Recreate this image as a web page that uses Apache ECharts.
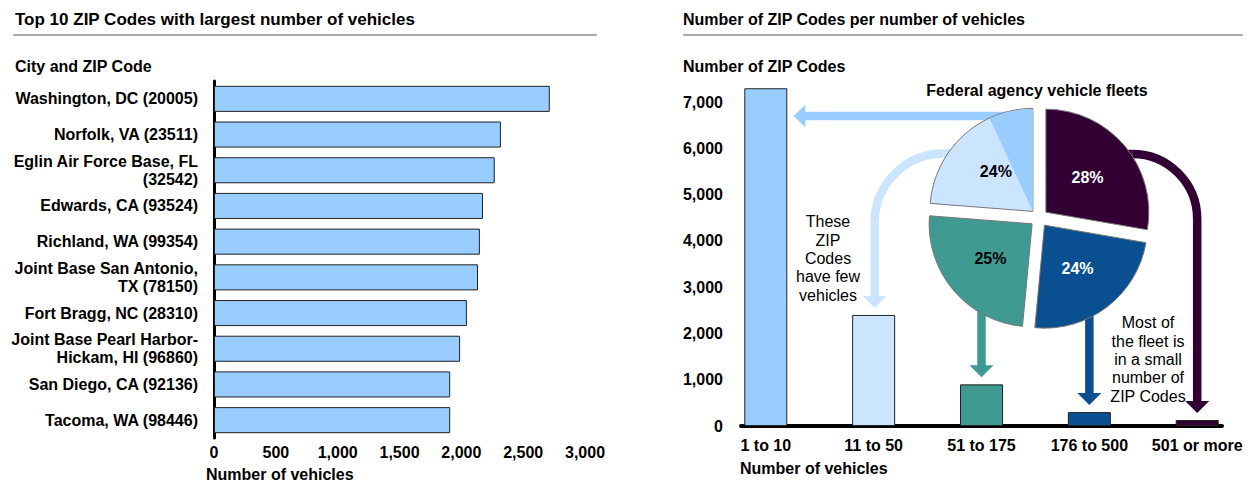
<!DOCTYPE html>
<html>
<head>
<meta charset="utf-8">
<script src="https://cdn.jsdelivr.net/npm/echarts@6/dist/echarts.min.js"></script>
<style>
  html, body { margin: 0; padding: 0; background: #fff; }
  #main { width: 1251px; height: 481px; }
</style>
</head>
<body>
<div id="main"></div>
<script>
// left panel: top 10 ZIP codes by vehicle count
var zipNames = [
  'Washington, DC (20005)',
  'Norfolk, VA (23511)',
  'Eglin Air Force Base, FL\n(32542)',
  'Edwards, CA (93524)',
  'Richland, WA (99354)',
  'Joint Base San Antonio,\nTX (78150)',
  'Fort Bragg, NC (28310)',
  'Joint Base Pearl Harbor-\nHickam, HI (96860)',
  'San Diego, CA (92136)',
  'Tacoma, WA (98446)'
];
var zipVehicles = [2715, 2320, 2270, 2175, 2150, 2135, 2045, 1990, 1910, 1910];

// right panel: number of ZIP codes per fleet size
var fleetBins = ['1 to 10', '11 to 50', '51 to 175', '176 to 500', '501 or more'];
var zipCounts = [7300, 2400, 900, 300, 130];
var zipTicks = [0, 1000, 2000, 3000, 4000, 5000, 6000, 7000];

// pie: share of the federal fleet (clockwise from 12 o'clock)
var shareNames = ['501 or more', '176 to 500', '51 to 175', '1 to 50'];
var shareValues = [28, 24, 25, 24];
var shareOneToTen = 7;   // the darker wedge inside the 1 to 50 slice

var FONT = "'Liberation Sans', Arial, sans-serif";
var binColors = ['#99ccff', '#cce5ff', '#3f9a92', '#0a5090', '#330033'];
var pieColors = ['#330033', '#0a5090', '#3f9a92', '#cce5ff'];
var pieLabelColors = ['#fff', '#fff', '#000', '#000'];
var pieLabelShift = [[3, -7], [7, 9], [-2, 10], [-4, -11]];
var pieCenter = [1039, 218];
var pieRadius = 103;
var pieOffset = 9;

function fmt(v) { return Number(v).toLocaleString('en-US'); }

var chart = echarts.init(document.getElementById('main'), null, { renderer: 'svg' });

var option = {
  animation: false,
  textStyle: { fontFamily: FONT },
  grid: [
    { left: 214, top: 81, width: 371, height: 357 },
    { left: 741, top: 79, width: 481, height: 347 }
  ],
  xAxis: [
    {
      gridIndex: 0, type: 'value', min: 0, max: 3000, interval: 500,
      axisLine: { show: false }, axisTick: { show: false }, splitLine: { show: false },
      axisLabel: { formatter: fmt, color: '#000', fontSize: 16, fontWeight: 'bold', margin: 6, fontFamily: FONT }
    },
    {
      gridIndex: 1, type: 'value', min: -0.23, max: 4.23,
      axisLine: { show: true, lineStyle: { color: '#000', width: 4 } },
      axisTick: { show: false }, splitLine: { show: false },
      axisLabel: {
        customValues: [0, 1, 2, 3, 4],
        formatter: function (v) { return fleetBins[Math.round(v)]; },
        color: '#000', fontSize: 16, fontWeight: 'bold', margin: 11, fontFamily: FONT
      }
    }
  ],
  yAxis: [
    {
      gridIndex: 0, type: 'category', data: zipNames, inverse: true,
      axisLine: { show: true, lineStyle: { color: '#000', width: 3 } },
      axisTick: { show: false },
      axisLabel: { color: '#000', fontSize: 16, fontWeight: 'bold', margin: 16, lineHeight: 18, align: 'right', fontFamily: FONT }
    },
    {
      gridIndex: 1, type: 'value', min: 0, max: 7500,
      axisLine: { show: false }, axisTick: { show: false }, splitLine: { show: false },
      axisLabel: { customValues: zipTicks, formatter: fmt, color: '#000', fontSize: 16, fontWeight: 'bold', margin: 18, fontFamily: FONT }
    }
  ],
  series: [
    {
      type: 'bar', xAxisIndex: 0, yAxisIndex: 0,
      data: zipVehicles, barCategoryGap: '27%',
      itemStyle: { color: '#99ccff', borderColor: '#222', borderWidth: 1 },
      silent: true
    },
    {
      type: 'bar', xAxisIndex: 1, yAxisIndex: 1, barWidth: 43,
      data: zipCounts.map(function (v, i) {
        return { value: [i, v], itemStyle: { color: binColors[i] } };
      }),
      itemStyle: { borderColor: '#222', borderWidth: 1 },
      silent: true
    },
    {
      type: 'pie', center: pieCenter, radius: pieRadius,
      startAngle: 90, clockwise: true,
      selectedMode: 'multiple', selectedOffset: pieOffset,
      avoidLabelOverlap: false, silent: true, z: 3,
      itemStyle: { borderColor: '#777', borderWidth: 1 },
      label: { show: true, position: 'inside', formatter: '{c}%', fontSize: 16, fontWeight: 'bold', fontFamily: FONT },
      labelLine: { show: false },
      emphasis: { disabled: true },
      data: shareValues.map(function (v, i) {
        return {
          name: shareNames[i], value: v, selected: true,
          itemStyle: { color: pieColors[i] },
          label: { color: pieLabelColors[i], offset: pieLabelShift[i] }
        };
      })
    }
  ]
};

// the 1 to 10 wedge sits inside the exploded 1 to 50 slice, so shift it the same way
var total = shareValues.reduce(function (a, b) { return a + b; }, 0);
var before = shareValues[0] + shareValues[1] + shareValues[2];
var midFrac = (before + shareValues[3] / 2) / total;
var midAng = (-90 + midFrac * 360) * Math.PI / 180;
var wedgeCenter = [pieCenter[0] + pieOffset * Math.cos(midAng), pieCenter[1] + pieOffset * Math.sin(midAng)];
option.series.push({
  type: 'pie', center: wedgeCenter, radius: pieRadius - 0.5,
  startAngle: 90, clockwise: false, silent: true, z: 3,
  label: { show: false }, labelLine: { show: false },
  emphasis: { disabled: true },
  data: [
    { name: '1 to 10', value: shareOneToTen, itemStyle: { color: '#99ccff' } },
    { name: 'rest', value: total - shareOneToTen, itemStyle: { color: 'rgba(0,0,0,0)' } }
  ]
});

chart.setOption(option);

// annotations: headings, rules, arrows and notes
function txt(x, y, s, opts) {
  opts = opts || {};
  var lh = opts.lineHeight || 18;
  return {
    type: 'text', x: x, y: y - lh / 2, z: 5, silent: true,
    style: {
      text: s, fill: '#000',
      font: (opts.weight || 'bold') + ' ' + (opts.size || 16) + 'px ' + FONT,
      textAlign: opts.align || 'left', align: opts.align || 'left',
      textVerticalAlign: 'top', verticalAlign: 'top',
      lineHeight: lh
    }
  };
}
function rule(x1, x2, y) {
  return { type: 'line', z: 0, silent: true, shape: { x1: x1, y1: y, x2: x2, y2: y }, style: { stroke: '#555', lineWidth: 1.2 } };
}
var SHAFT = 8.5, HEAD_W = 12, HEAD_L = 12;
function head(x, tipY, color) {
  return { type: 'polygon', z: 0, silent: true, shape: { points: [[x - HEAD_W, tipY - HEAD_L], [x + HEAD_W, tipY - HEAD_L], [x, tipY]] }, style: { fill: color } };
}
function downArrow(x, yTop, tipY, color) {
  return [
    { type: 'rect', z: 0, silent: true, shape: { x: x - SHAFT / 2, y: yTop, width: SHAFT, height: tipY - HEAD_L + 1 - yTop }, style: { fill: color } },
    head(x, tipY, color)
  ];
}
function curvedArrow(x, yStart, xStart, radius, dir, tipY, color) {
  // dir -1: bends down to the left, 1: bends down to the right
  var cx = x - dir * radius;
  var cy = yStart + radius;
  var arc = dir < 0
    ? { startAngle: Math.PI, endAngle: Math.PI * 1.5 }
    : { startAngle: -Math.PI / 2, endAngle: 0 };
  return [
    { type: 'line', z: 0, silent: true, shape: { x1: xStart, y1: yStart, x2: cx, y2: yStart }, style: { stroke: color, lineWidth: SHAFT } },
    { type: 'arc', z: 0, silent: true, shape: { cx: cx, cy: cy, r: radius, startAngle: arc.startAngle, endAngle: arc.endAngle, clockwise: true }, style: { fill: null, stroke: color, lineWidth: SHAFT } },
    { type: 'rect', z: 0, silent: true, shape: { x: x - SHAFT / 2, y: cy, width: SHAFT, height: tipY - HEAD_L + 1 - cy }, style: { fill: color } },
    head(x, tipY, color)
  ];
}

var barPts = zipCounts.map(function (v, i) {
  return chart.convertToPixel({ gridIndex: 1 }, [i, v]);
});
var gap = 7;
var els = [
  txt(15, 19, 'Top 10 ZIP Codes with largest number of vehicles', { size: 17 }),
  rule(13, 597, 35),
  txt(15, 66, 'City and ZIP Code'),
  txt(206, 474, 'Number of vehicles'),
  txt(683, 19, 'Number of ZIP Codes per number of vehicles'),
  rule(683, 1243, 35),
  txt(683, 66, 'Number of ZIP Codes'),
  txt(740, 468, 'Number of vehicles'),
  txt(1037, 90, 'Federal agency vehicle fleets', { align: 'center' }),
  txt(828, 222, 'These\nZIP\nCodes\nhave few\nvehicles', { weight: 'normal', align: 'center', lineHeight: 18.3 }),
  txt(1148, 323, 'Most of\nthe fleet is\nin a small\nnumber of\nZIP Codes', { weight: 'normal', align: 'center', lineHeight: 18.3 })
];

// 1 to 10: horizontal arrow to the side of the tall bar
var tipX = barPts[0][0] + 21.5 + 6;
els.push(
  { type: 'rect', z: 0, silent: true, shape: { x: tipX + 11, y: 116 - SHAFT / 2, width: 1031 - tipX - 11, height: SHAFT }, style: { fill: binColors[0] } },
  { type: 'polygon', z: 0, silent: true, shape: { points: [[tipX + 12, 105], [tipX + 12, 127], [tipX, 116]] }, style: { fill: binColors[0] } }
);
els = els.concat(
  curvedArrow(barPts[1][0] + 1, 153.5, 960, 69, -1, barPts[1][1] - gap, binColors[1]),
  downArrow(barPts[2][0], 300, barPts[2][1] - gap, binColors[2]),
  downArrow(barPts[3][0], 300, barPts[3][1] - gap, binColors[3]),
  curvedArrow(barPts[4][0], 154, 1120, 65, 1, barPts[4][1] - gap, binColors[4])
);

chart.setOption({ graphic: { elements: els } });
</script>
</body>
</html>
